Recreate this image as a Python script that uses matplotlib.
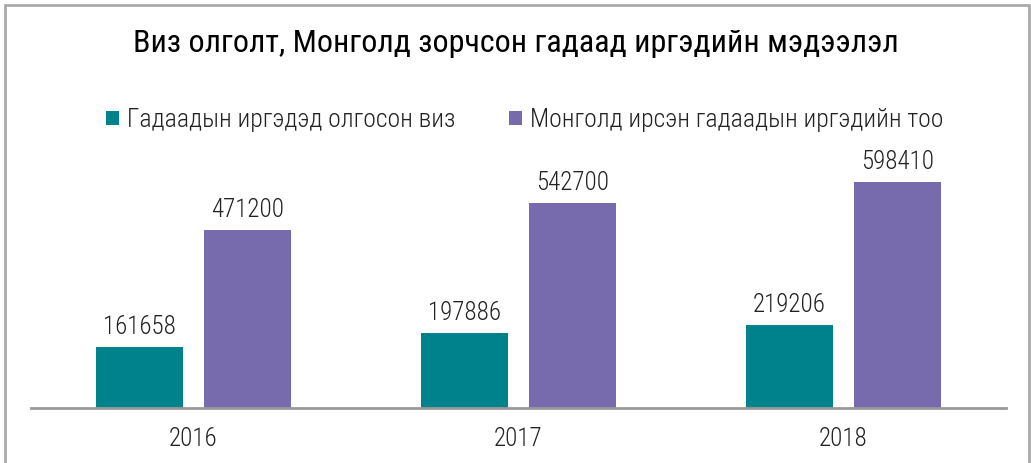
import numpy as np
import matplotlib.pyplot as plt
from matplotlib.patches import Rectangle

years = ["2016", "2017", "2018"]
visas_issued = [161658, 197886, 219206]
foreign_arrivals = [471200, 542700, 598410]
series_names = ["Гадаадын иргэдэд олгосон виз", "Монголд ирсэн гадаадын иргэдийн тоо"]
title = "Виз олголт, Монголд зорчсон гадаад иргэдийн мэдээлэл"

teal = "#00828C"
purple = "#776BAE"
text_color = "#222222"

plt.rcParams["font.family"] = ["Roboto Condensed", "Roboto", "DejaVu Sans"]
plt.rcParams["font.weight"] = "light"

fig = plt.figure(figsize=(10.31, 4.63), dpi=100)
ax = fig.add_axes([31 / 1031, 1 - 408 / 463, 975 / 1031, 264 / 463])

x = np.arange(len(years))
width = 0.268
offset = 0.166
b1 = ax.bar(x - offset, visas_issued, width, color=teal, label=series_names[0])
b2 = ax.bar(x + offset, foreign_arrivals, width, color=purple, label=series_names[1])

for bars, vals in [(b1, visas_issued), (b2, foreign_arrivals)]:
    for rect, v in zip(bars, vals):
        ax.annotate(str(v), (rect.get_x() + rect.get_width() / 2, v),
                    xytext=(0, 6), textcoords="offset points",
                    ha="center", va="bottom", fontsize=18, color=text_color)

ax.set_xlim(-0.5, 2.5)
ax.set_ylim(0, 700000)
ax.set_xticks(x)
ax.set_xticklabels(years, fontsize=18, color=text_color)
ax.tick_params(axis="x", length=0, pad=14)
ax.set_yticks([])
for side in ["top", "right", "left"]:
    ax.spines[side].set_visible(False)
ax.spines["bottom"].set_color("#999999")
ax.spines["bottom"].set_linewidth(2)

fig.text(0.5, 1 - 43 / 463, title, ha="center", va="center", fontsize=23,
         fontweight="normal", color="black")
fig.legend(loc="center", bbox_to_anchor=(0.509, 1 - 120 / 463), ncol=2, frameon=False,
           fontsize=18.5, handlelength=0.5, handleheight=0.5, handletextpad=0.3,
           columnspacing=2.1, labelcolor=text_color)

# frame around the whole chart
fig.patches.append(Rectangle((5 / 1031, -0.05), 1024 / 1031, 1.05 - 5 / 463,
                             transform=fig.transFigure, fill=False,
                             edgecolor="#AAAAAA", linewidth=2))

fig.savefig("out.png", dpi=100)
